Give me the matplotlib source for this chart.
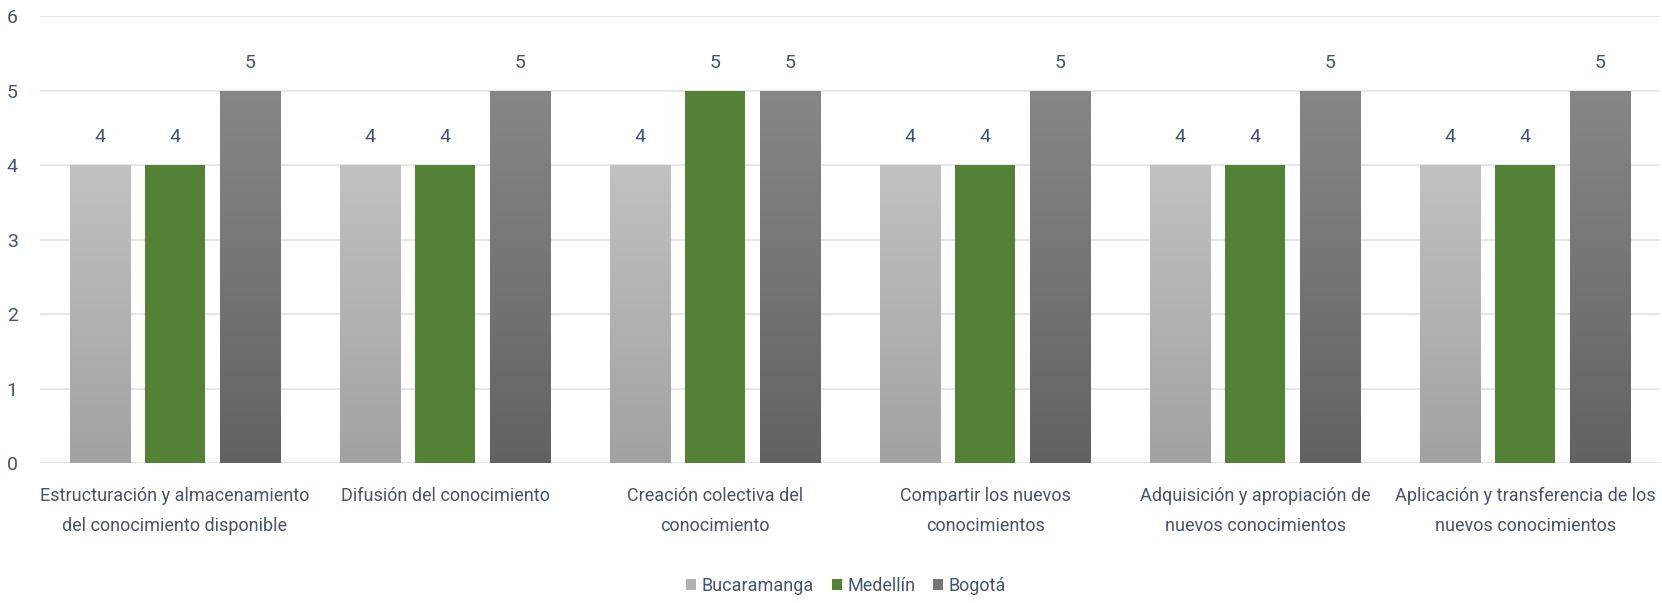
import numpy as np
import matplotlib
matplotlib.use("Agg")
import matplotlib.pyplot as plt
from matplotlib.colors import LinearSegmentedColormap
from matplotlib.patches import Patch

plt.rcParams["font.family"] = ["Roboto", "DejaVu Sans"]

categories = [
    "Estructuración y almacenamiento\ndel conocimiento disponible",
    "Difusión del conocimiento",
    "Creación colectiva del\nconocimiento",
    "Compartir los nuevos\nconocimientos",
    "Adquisición y apropiación de\nnuevos conocimientos",
    "Aplicación y transferencia de los\nnuevos conocimientos",
]
series_names = ["Bucaramanga", "Medellín", "Bogotá"]
bucaramanga = [4, 4, 4, 4, 4, 4]
medellin = [4, 4, 5, 4, 4, 4]
bogota = [5, 5, 5, 5, 5, 5]

TEXT = "#44546a"
# (top, bottom) colours of each series
fills = [("#c1c1c1", "#a2a2a2"), ("#538135", "#538135"), ("#878787", "#626262")]
legend_colors = ["#b2b2b2", "#538135", "#747474"]

fig = plt.figure(figsize=(16.62, 6.03), dpi=100)
ax = fig.add_axes([0.024, 0.232, 0.975, 0.741])

x = np.arange(len(categories))
width = 60 / 270
step = 75 / 270
grad = np.linspace(0, 1, 256).reshape(-1, 1)

for i, (vals, (top, bot)) in enumerate(zip([bucaramanga, medellin, bogota], fills)):
    bars = ax.bar(x + (i - 1) * step, vals, width, color=bot, zorder=2, linewidth=0)
    cmap = LinearSegmentedColormap.from_list("g%d" % i, [bot, top])
    for b, v in zip(bars, vals):
        if top != bot:
            im = ax.imshow(grad, cmap=cmap, origin="lower", aspect="auto",
                           extent=[b.get_x(), b.get_x() + b.get_width(), 0, v],
                           zorder=2.5)
            im.set_clip_path(b)
        ax.annotate(str(v), (b.get_x() + b.get_width() / 2, v),
                    xytext=(0, 20), textcoords="offset points",
                    ha="center", va="center", fontsize=14, color=TEXT)

ax.set_xlim(-0.5, len(categories) - 0.5)
ax.set_ylim(0, 6)
ax.set_yticks(range(7))
ax.yaxis.grid(True, color="#e1e6ec", linewidth=1.3, zorder=0)
ax.set_axisbelow(True)
for s in ax.spines.values():
    s.set_visible(False)
ax.tick_params(axis="y", length=0, pad=16, labelsize=14, labelcolor=TEXT)
ax.set_xticks(x)
ax.set_xticklabels(categories, fontsize=13, color=TEXT, linespacing=1.85)
ax.tick_params(axis="x", length=0, pad=17)

handles = [Patch(facecolor=c) for c in legend_colors]
fig.legend(handles, series_names, loc="center", bbox_to_anchor=(0.509, 0.028),
           ncol=3, frameon=False, fontsize=13, labelcolor=TEXT,
           handlelength=0.55, handleheight=0.55, handletextpad=0.3, columnspacing=1.0)

fig.savefig("out.png", dpi=100)
